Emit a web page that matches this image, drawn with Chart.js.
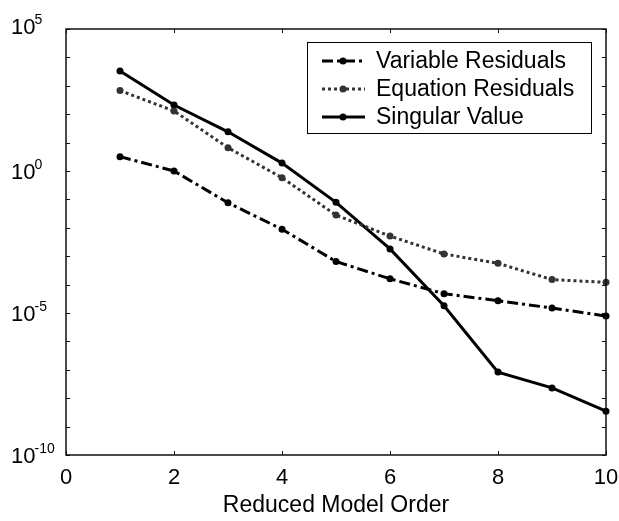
<!DOCTYPE html>
<html>
<head>
<meta charset="utf-8">
<script src="https://cdn.jsdelivr.net/npm/chart.js@4/dist/chart.umd.min.js"></script>
<style>
  html, body { margin: 0; padding: 0; background: #fff; }
  #wrap { width: 619px; height: 521px; }
</style>
</head>
<body>
<div id="wrap"><canvas id="orderChart" width="619" height="521"></canvas></div>
<script>
// reduced model order vs. residual / singular value magnitudes
const orders = [1, 2, 3, 4, 5, 6, 7, 8, 9, 10];
const variableResiduals = [3.2, 1.0, 0.076, 8.9e-3, 6.5e-4, 1.6e-4, 4.8e-5, 2.7e-5, 1.5e-5, 7.8e-6];
const equationResiduals = [680, 130, 6.6, 0.58, 0.028, 5.1e-3, 1.2e-3, 5.6e-4, 1.5e-4, 1.2e-4];
const singularValues = [3300, 210, 24, 1.9, 0.079, 1.8e-3, 1.8e-5, 8.3e-8, 2.3e-8, 3.5e-9];

const xTicks = [0, 2, 4, 6, 8, 10];
const yLabelExponents = [5, 0, -5, -10];
const xTitle = 'Reduced Model Order';

const FONT = '"Liberation Sans", Arial, sans-serif';

const toPoints = (vals) => vals.map((v, i) => ({ x: orders[i], y: v }));

const series = (label, vals, color, dash) => ({
  label: label,
  data: toPoints(vals),
  borderColor: color,
  backgroundColor: color,
  borderWidth: 3,
  borderDash: dash,
  pointRadius: 3.5,
  pointHoverRadius: 3.5,
  pointBorderWidth: 0,
  tension: 0,
  clip: false,
});

// axes frame, inward ticks, 10^n labels and boxed legend
const matlabAxes = {
  id: 'matlabAxes',
  afterDraw(chart) {
    const { ctx, chartArea: a, scales } = chart;
    const xs = scales.x, ys = scales.y;
    ctx.save();
    ctx.strokeStyle = '#111';
    ctx.lineWidth = 1.5;
    ctx.setLineDash([]);
    ctx.strokeRect(a.left, a.top, a.right - a.left, a.bottom - a.top);

    ctx.lineWidth = 1;
    const tl = 4;
    xTicks.forEach(t => {
      const px = Math.round(xs.getPixelForValue(t)) + 0.5;
      ctx.beginPath();
      ctx.moveTo(px, a.bottom); ctx.lineTo(px, a.bottom - tl);
      ctx.moveTo(px, a.top); ctx.lineTo(px, a.top + tl);
      ctx.stroke();
    });
    for (let e = -10; e <= 5; e++) {
      const py = Math.round(ys.getPixelForValue(Math.pow(10, e))) + 0.5;
      ctx.beginPath();
      ctx.moveTo(a.left, py); ctx.lineTo(a.left + tl, py);
      ctx.moveTo(a.right, py); ctx.lineTo(a.right - tl, py);
      ctx.stroke();
    }

    ctx.fillStyle = '#000';
    ctx.font = '22px ' + FONT;
    ctx.textAlign = 'center';
    ctx.textBaseline = 'alphabetic';
    xTicks.forEach(t => {
      ctx.fillText(String(t), xs.getPixelForValue(t), 484);
    });
    ctx.font = '23px ' + FONT;
    ctx.fillText(xTitle, (a.left + a.right) / 2, 512);

    ctx.textAlign = 'left';
    yLabelExponents.forEach(e => {
      let py = ys.getPixelForValue(Math.pow(10, e));
      if (py < a.top + 2) py -= 3;
      ctx.font = '22px ' + FONT;
      ctx.fillText('10', 11, py + 8);
      const w = ctx.measureText('10').width;
      ctx.font = '14px ' + FONT;
      ctx.fillText(String(e), 10 + w, py - 2);
    });

    // legend
    const box = { x: 307.5, y: 42.5, w: 284, h: 91 };
    ctx.fillStyle = '#fff';
    ctx.fillRect(box.x, box.y, box.w, box.h);
    ctx.strokeStyle = '#000';
    ctx.lineWidth = 1;
    ctx.strokeRect(box.x, box.y, box.w, box.h);
    ctx.font = '23px ' + FONT;
    ctx.textBaseline = 'middle';
    chart.data.datasets.forEach((ds, i) => {
      const y = 61 + i * 28;
      ctx.strokeStyle = ds.borderColor;
      ctx.lineWidth = ds.borderWidth;
      ctx.setLineDash(ds.borderDash || []);
      ctx.beginPath();
      ctx.moveTo(322, y); ctx.lineTo(365, y);
      ctx.stroke();
      ctx.setLineDash([]);
      ctx.fillStyle = ds.backgroundColor;
      ctx.beginPath();
      ctx.arc(343, y, 3.5, 0, Math.PI * 2);
      ctx.fill();
      ctx.fillStyle = '#000';
      ctx.fillText(ds.label, 376, y + 1);
    });
    ctx.restore();
  }
};

new Chart(document.getElementById('orderChart'), {
  type: 'line',
  data: {
    datasets: [
      series('Variable Residuals', variableResiduals, '#000', [11, 4, 3, 4]),
      series('Equation Residuals', equationResiduals, '#333', [3, 3]),
      series('Singular Value', singularValues, '#000', []),
    ]
  },
  options: {
    responsive: false,
    animation: false,
    layout: { padding: { left: 66, right: 13, top: 29, bottom: 66 } },
    scales: {
      x: { type: 'linear', min: 0, max: 10, display: false },
      y: { type: 'logarithmic', min: 1e-10, max: 1e5, display: false },
    },
    plugins: {
      legend: { display: false },
      tooltip: { enabled: false },
    },
  },
  plugins: [matlabAxes],
});
</script>
</body>
</html>
